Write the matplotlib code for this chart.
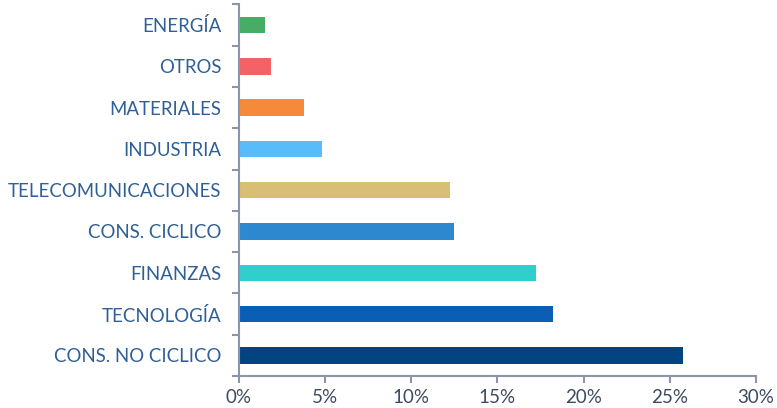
import matplotlib.pyplot as plt
from matplotlib.ticker import FuncFormatter

# sector weights (%), bottom to top
sectores = ["CONS. NO CICLICO", "TECNOLOGÍA", "FINANZAS", "CONS. CICLICO",
            "TELECOMUNICACIONES", "INDUSTRIA", "MATERIALES", "OTROS", "ENERGÍA"]
pesos = [25.75, 18.23, 17.22, 12.49, 12.26, 4.84, 3.8, 1.88, 1.54]
colores = ["#034381", "#0a5fb4", "#2ecfcd", "#2e88d0", "#d9bf76",
           "#58bcfa", "#f68a3a", "#f36264", "#47ad64"]
xticks = [0, 5, 10, 15, 20, 25, 30]

plt.rcParams['font.family'] = ['Lato', 'DejaVu Sans']

fig = plt.figure(figsize=(7.77, 4.08), dpi=100)
ax = fig.add_axes([0.307, 0.0784, 0.666, 0.911])

y = list(range(len(sectores)))
ax.barh(y, pesos, height=0.4, color=colores, zorder=2)

ax.set_xlim(0, 30)
ax.set_ylim(-0.5, len(sectores) - 0.5)
ax.set_xticks(xticks)
ax.xaxis.set_major_formatter(FuncFormatter(lambda v, p: f"{v:.0f}%"))

# category labels centred, ticks on band boundaries
ax.set_yticks(y)
ax.set_yticklabels(sectores)
ax.set_yticks([i - 0.5 for i in range(len(sectores) + 1)], minor=True)
ax.tick_params(axis='y', which='major', length=0, pad=12.5, labelsize=13.4,
               labelcolor="#2f5f96")
ax.tick_params(axis='y', which='minor', length=5, width=1.5, color="#8c96ab")
ax.tick_params(axis='x', length=5, width=1.5, color="#8c96ab", labelsize=13.5,
               labelcolor="#3d4b60", pad=4)

for s in ['top', 'right']:
    ax.spines[s].set_visible(False)
for s in ['left', 'bottom']:
    ax.spines[s].set_color("#8c96ab")
    ax.spines[s].set_linewidth(1.5)

plt.savefig("out.png", dpi=100)
